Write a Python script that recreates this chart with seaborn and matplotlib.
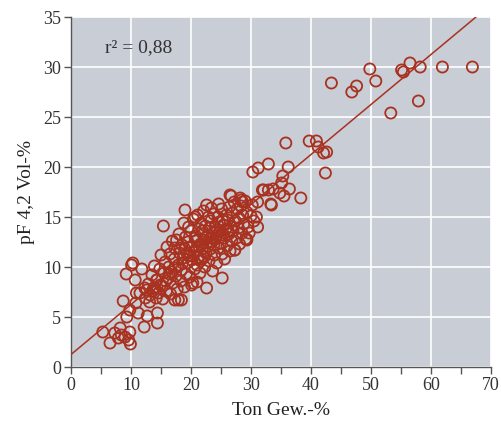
import numpy as np
import pandas as pd
import matplotlib
matplotlib.use("Agg")
import matplotlib.pyplot as plt
import seaborn as sns

# ---- data ----
ton_low = [5.3, 6.5, 7.3, 7.9, 8.2, 8.4, 9.0, 9.6, 9.9, 9.8, 8.7, 9.8, 9.3, 11.2, 12.7, 14.4, 14.4, 12.2,
           10.8, 11.5, 10.9, 13.2, 12.3, 14.0, 10.1, 9.2, 10.7, 11.8, 10.3, 12.6, 14.3]
pf_low = [3.5, 2.4, 3.4, 2.9, 3.9, 3.2, 3.0, 2.7, 2.3, 3.5, 6.6, 5.7, 5.0, 5.4, 5.1, 5.4, 4.4, 4.0,
          6.4, 7.4, 7.4, 7.2, 7.9, 7.9, 10.2, 9.3, 8.7, 9.8, 10.4, 7.7, 8.7]

ton_mid = [12.4, 12.9, 13.1, 13.5, 13.6, 13.9, 14.2, 14.3, 14.6, 14.8, 15.0, 15.2, 15.3, 15.5, 15.7, 15.9,
           16.0, 16.2, 16.3, 16.5, 16.6, 16.8, 16.9, 17.0, 17.2, 17.3, 17.5, 17.6, 17.7, 17.9, 18.0, 18.1,
           18.3, 18.4, 18.5, 18.7, 18.8, 18.9, 19.0, 19.1, 19.2, 19.4, 19.5, 19.6, 19.7, 19.8, 20.0, 20.1,
           20.2, 20.3, 20.4, 20.5, 20.6, 20.8, 20.9, 21.0, 21.1, 21.2, 21.3, 21.5, 21.6, 21.7, 21.8, 21.9,
           22.0, 22.1, 22.2, 22.3, 22.4, 22.5, 22.7, 22.8, 22.9, 23.0, 23.1, 23.2, 23.3, 23.5, 23.6, 23.7,
           23.8, 23.9, 24.0, 24.1, 24.3, 24.4, 24.5, 24.6, 24.7, 24.9, 25.0, 25.1, 25.2, 25.4, 25.5, 25.6,
           25.8, 25.9, 26.0, 26.1, 26.3, 26.4, 26.5, 26.7, 26.8, 26.9, 27.0, 27.2, 27.3, 27.4, 27.6, 27.7,
           27.9, 28.0, 28.1, 28.3, 28.5, 28.6, 28.8, 29.0, 29.1, 29.3, 29.5, 29.7, 30.0, 30.2, 30.5,
           19.3, 20.7, 21.4, 21.9, 22.6, 23.4, 24.2, 19.9, 20.9, 22.2, 23.8, 18.6, 17.4, 16.4, 15.8, 14.9,
           13.8, 24.8, 25.3, 26.2, 21.6, 18.2]
pf_mid = [6.9, 8.3, 6.5, 9.2, 7.6, 10.1, 6.9, 8.7, 7.4, 9.8, 11.2, 8.1, 6.8, 9.4, 10.5, 7.6,
          12.0, 8.9, 10.0, 11.3, 7.3, 9.5, 12.6, 8.4, 10.8, 11.9, 9.1, 12.7, 7.8, 10.2, 13.3, 11.4,
          8.6, 9.7, 12.2, 10.9, 14.4, 8.0, 11.8, 13.0, 9.3, 10.4, 12.5, 14.0, 11.1, 9.0, 13.6, 10.7,
          12.0, 8.4, 14.8, 11.5, 9.8, 13.1, 12.6, 10.2, 15.2, 11.0, 13.8, 9.4, 12.3, 14.4, 10.8, 11.8,
          13.3, 15.6, 12.7, 10.0, 14.1, 11.4, 13.0, 12.1, 15.0, 10.6, 13.9, 11.8, 14.6, 12.5, 9.6, 13.4,
          15.3, 11.2, 14.0, 12.8, 10.4, 13.7, 15.0, 11.9, 14.5, 12.4, 13.2, 15.8, 11.3, 14.2, 12.9, 10.8,
          13.8, 15.2, 12.1, 14.7, 13.3, 16.0, 11.6, 14.0, 12.6, 15.4, 13.6, 16.5, 11.7, 14.6, 12.9, 15.8,
          13.9, 14.9, 12.3, 16.1, 13.4, 15.2, 14.3, 16.6, 12.8, 15.5, 14.0, 13.4, 15.1, 16.2, 14.6,
          11.4, 12.9, 12.0, 13.6, 12.4, 12.9, 13.1, 11.2, 11.6, 11.0, 12.2, 10.4, 9.9, 9.3, 8.6, 8.2,
          7.9, 13.6, 14.6, 13.6, 10.6, 11.9]

ton_edge = [15.4, 19.0, 22.6, 24.6, 26.7, 28.4, 30.9, 31.1, 29.3, 27.3, 25.2, 22.6, 20.1, 17.9, 17.3, 18.4,
            21.0, 20.7, 23.4, 28.2, 28.6, 26.5, 31.1, 29.3]
pf_edge = [14.1, 15.7, 16.2, 16.3, 17.1, 16.7, 15.0, 14.0, 12.7, 11.7, 8.9, 7.9, 8.2, 6.7, 6.7, 6.7,
           8.5, 15.0, 15.9, 16.9, 16.5, 17.2, 16.5, 12.8]

ton_high = [31.2, 30.3, 32.9, 35.8, 36.2, 35.3, 38.3, 36.4, 35.1, 34.8, 33.7, 32.9, 31.9, 33.3, 35.5, 39.7,
            40.9, 41.2, 42.1, 42.6, 42.4, 43.4, 46.8, 47.6, 49.8, 50.8, 53.3, 55.1, 55.4, 56.5, 57.9, 58.2,
            61.9, 66.9, 32.1, 33.4]
pf_high = [19.9, 19.5, 20.3, 22.4, 20.0, 19.1, 16.9, 17.8, 18.4, 17.4, 17.8, 17.7, 17.7, 16.3, 17.1, 22.6,
           22.6, 22.0, 21.4, 21.5, 19.4, 28.4, 27.5, 28.1, 29.8, 28.6, 25.4, 29.7, 29.5, 30.4, 26.6, 30.0,
           30.0, 30.0, 17.7, 16.2]

fit_intercept = 1.25
fit_slope = 0.5
r2_text = "r\u00b2 = 0,88"

xticks = [0, 10, 20, 30, 40, 50, 60, 70]
yticks = [0, 5, 10, 15, 20, 25, 30, 35]
xlabel = "Ton Gew.-%"
ylabel = "pF 4,2 Vol-%"

df = pd.DataFrame({
    "ton": ton_low + ton_mid + ton_edge + ton_high,
    "pf": pf_low + pf_mid + pf_edge + pf_high,
})

# ---- style ----
sns.set_style("white")
plt.rcParams["font.family"] = ["Liberation Serif", "DejaVu Serif"]

red = "#a8321f"
bg = "#c9cdd6"

fig = plt.figure(figsize=(5.01, 4.23), dpi=100)
ax = fig.add_axes([71 / 501, 1 - 367 / 423, 420 / 501, 350 / 423])
ax.set_facecolor(bg)

ax.set_xlim(0, 70)
ax.set_ylim(0, 35)
ax.set_xticks(xticks)
ax.set_xticks([5, 15, 25, 35, 45, 55, 65], minor=True)
ax.set_yticks(yticks)
ax.grid(True, which="major", color="white", linewidth=1.2)
ax.set_axisbelow(True)

sns.scatterplot(data=df, x="ton", y="pf", ax=ax, marker="o", s=64,
                facecolor="none", edgecolor=red, linewidth=1.3, zorder=3)

xl = np.array([0, (35 - fit_intercept) / fit_slope])
ax.plot(xl, fit_intercept + fit_slope * xl, color=red, linewidth=1.1, zorder=4)

for s in ["top", "right"]:
    ax.spines[s].set_visible(False)
for s in ["left", "bottom"]:
    ax.spines[s].set_color("#555555")
    ax.spines[s].set_linewidth(1.0)

ax.tick_params(axis="both", which="both", direction="out", length=5, width=1.0,
               color="#555555", labelsize=13, labelcolor="#333333", pad=2,
               bottom=True, left=True)
ax.set_xlabel(xlabel, fontsize=14, color="#222222", labelpad=6)
ax.set_ylabel(ylabel, fontsize=14, color="#222222", labelpad=6)

ax.text(5.6, 31.9, r2_text, fontsize=14, color="#333333", ha="left", va="center")

fig.savefig("out.png", dpi=100)
